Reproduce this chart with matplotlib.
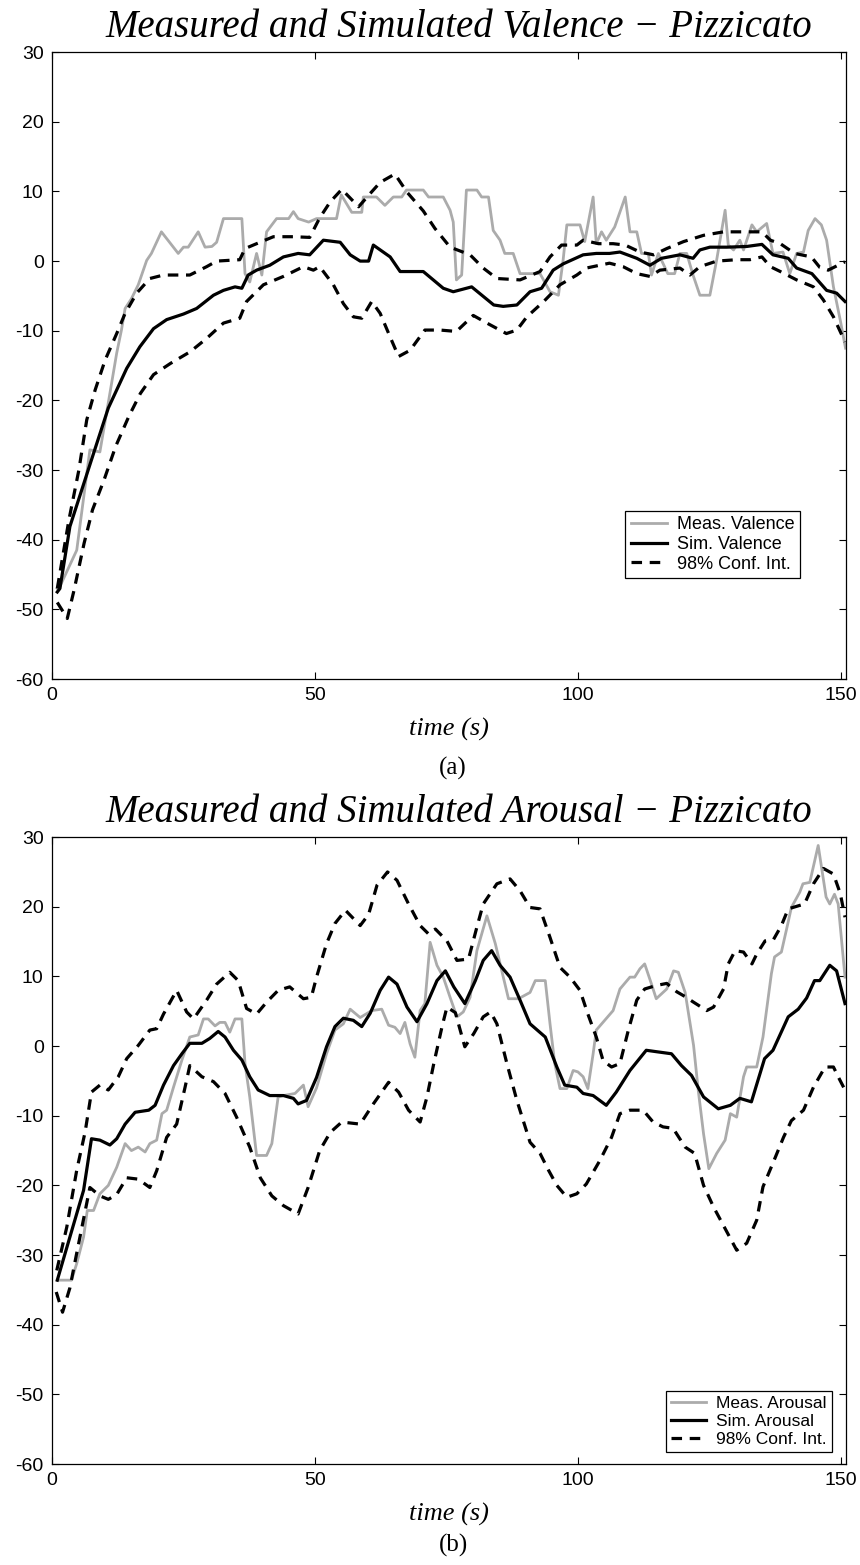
import numpy as np
import matplotlib
matplotlib.use('Agg')
import matplotlib.pyplot as plt

plt.rcParams['font.family'] = ['Liberation Sans', 'DejaVu Sans']
plt.rcParams['axes.unicode_minus'] = False

# (time, value)
val_meas = [(1, -47), (1.5, -46.7), (4.7, -41.5), (7.2, -27.1), (9.1, -27.4), (11, -19), (12.3, -13.2),
            (13.2, -9.9), (13.9, -6.8), (15.1, -5.4), (16.4, -3.4), (18, 0.1), (18.9, 1.1), (20.8, 4.2),
            (24, 1.1), (25, 2.0), (25.9, 2.0), (27.8, 4.2), (29.1, 2.0), (30.4, 2.1), (31.3, 2.7),
            (32.6, 6.1), (36.1, 6.1), (36.7, -1.8), (37.6, -3.0), (38.9, 1.1), (39.9, -2.0), (40.8, 4.2),
            (42.7, 6.1), (45, 6.1), (45.9, 7.1), (46.8, 6.1), (48.8, 5.6), (50.3, 6.1), (54.1, 6.1),
            (55, 9.5), (57, 7.0), (58.9, 7.0), (59.2, 9.2), (61.7, 9.2), (63.3, 8.0), (64.9, 9.2),
            (66.5, 9.2), (67.4, 10.2), (70.6, 10.2), (71.6, 9.2), (74.4, 9.2), (75.7, 7.3), (76.3, 5.6),
            (76.9, -2.7), (77.9, -2.0), (78.8, 10.2), (80.8, 10.2), (81.7, 9.2), (83, 9.2), (83.9, 4.4),
            (85.2, 3.0), (86.1, 1.1), (87.7, 1.1), (89, -1.8), (92.8, -1.8), (94.7, -4.4), (96.3, -4.9),
            (97.2, 0.2), (97.9, 5.2), (100.4, 5.2), (101.3, 2.8), (102.9, 9.2), (103.5, 2.5), (104.5, 4.2),
            (105.4, 3.0), (107, 4.9), (109, 9.2), (109.9, 4.2), (111.2, 4.2), (112.1, 1.1), (113.4, 1.1),
            (114, -2.0), (115.3, 1.1), (117.1, -1.8), (118.4, -1.8), (119.4, 1.1), (120.7, 1.1),
            (121.9, -2.0), (123.2, -4.9), (125.1, -4.9), (126.4, 0.2), (128, 7.3), (128.6, 2.3),
            (129.6, 1.6), (130.8, 3.0), (131.5, 1.6), (133.1, 5.2), (134, 4.2), (135.9, 5.4), (137.1, 1.1),
            (139, 1.3), (140.3, -1.8), (141.6, 1.1), (142.9, 1.3), (143.8, 4.4), (145.1, 6.1), (146.3, 5.2),
            (147.3, 3.0), (148.6, -3.7), (149.9, -8.5), (150.9, -12.5)]
val_sim = [(1, -47.5), (1.5, -47), (3.4, -38.1), (7.9, -27.6), (10.7, -21.1), (14.2, -15.4), (16.7, -12.3),
           (19.3, -9.7), (21.8, -8.4), (25, -7.6), (27.5, -6.8), (30.7, -4.9), (32.6, -4.2), (34.8, -3.7),
           (36.1, -3.9), (37.3, -2.0), (38.9, -1.3), (41.4, -0.6), (44, 0.6), (46.8, 1.1), (49, 0.9),
           (51.6, 3.0), (54.8, 2.7), (56.7, 0.9), (58.6, 0.0), (60.2, 0.0), (61.1, 2.3), (64.3, 0.6),
           (66.2, -1.5), (70.6, -1.5), (74.4, -3.9), (76.3, -4.4), (79.8, -3.7), (84, -6.3), (85.8, -6.5),
           (88.4, -6.3), (90.9, -4.4), (93.1, -3.9), (95.3, -1.3), (97.2, -0.4), (101, 0.9), (103.5, 1.1),
           (106, 1.1), (108, 1.3), (111.2, 0.4), (113.7, -0.6), (115.9, 0.4), (119.4, 0.9), (121.9, 0.4),
           (123.2, 1.6), (125.1, 2.0), (128.3, 2.0), (132.1, 2.1), (135, 2.4), (137.1, 0.9), (140, 0.4),
           (141.6, -1.0), (144.5, -1.8), (147.3, -4.2), (149.2, -4.6), (150.8, -5.8)]
val_up = [(1, -47), (3.2, -37.2), (5.1, -30), (6.6, -22.8), (8.2, -18.5), (10.1, -14.2), (12.3, -10.4),
          (13.9, -7.5), (16.1, -4.6), (18.6, -2.5), (21.2, -2.0), (26.2, -2.0), (29.4, -0.8), (31.3, 0.0),
          (35.7, 0.2), (36.7, 1.8), (38.9, 2.5), (42.1, 3.5), (45.9, 3.5), (49, 3.4), (50.9, 6.2),
          (52.9, 8.5), (55.1, 10.3), (58.3, 7.8), (60.5, 9.7), (62.4, 11.3), (65.2, 12.5), (67.5, 9.9),
          (70.6, 7.2), (72.8, 4.7), (75.7, 2.0), (79.5, 0.9), (82, -1.0), (84.6, -2.5), (89, -2.7),
          (92.8, -1.5), (94.7, 0.6), (96.9, 2.3), (99.8, 2.3), (101, 3.0), (103.9, 2.5), (106.7, 2.5),
          (109, 2.3), (111.8, 1.3), (114.4, 0.9), (116.9, 1.8), (120.1, 2.8), (123.9, 3.7), (127.7, 4.2),
          (135, 4.2), (136.6, 3.0), (138.5, 2.5), (141.2, 1.1), (144.4, 0.6), (146, -0.9), (147.6, -1.3),
          (150.8, -0.1)]
val_lo = [(1, -49), (2.9, -51.3), (4.2, -47.2), (6.1, -40.5), (7.7, -35.7), (9.9, -31.4), (12.1, -26.6),
          (14.6, -22.3), (16.8, -19.0), (19.3, -16.3), (22.5, -14.7), (26.3, -13.0), (29.4, -11.1),
          (32.6, -8.9), (35.7, -8.2), (37, -5.8), (40.2, -3.4), (44, -2.2), (47.8, -0.8), (49.7, -1.3),
          (50.9, -0.8), (53.5, -3.4), (55.4, -6.1), (57.3, -8.0), (58.9, -8.2), (60.8, -5.8), (62.4, -7.5),
          (64.3, -10.9), (65.9, -13.7), (68.1, -12.8), (70.9, -9.9), (73.8, -9.9), (76.9, -10.1),
          (80.1, -7.8), (82.7, -8.9), (86.4, -10.4), (88.4, -9.9), (90.3, -8.0), (93.5, -5.8), (96.6, -3.4),
          (99.8, -2.0), (101.6, -1.0), (106, -0.3), (108.6, -0.8), (111.2, -1.8), (113.7, -2.2),
          (115.6, -1.3), (119.4, -1.0), (121.3, -2.0), (123.2, -0.8), (126.4, 0.0), (130.2, 0.2),
          (132.7, 0.2), (135, 0.6), (136.6, -0.8), (138.5, -1.5), (141.6, -2.7), (144.8, -3.7),
          (146.7, -5.6), (148.6, -8.0), (150.8, -11.6)]

aro_meas = [(1, -33.6), (3.7, -33.6), (4.7, -31.2), (6, -27.4), (6.7, -23.6), (7.9, -23.6), (9.1, -21.2),
            (10.7, -20.0), (12.3, -17.4), (13.9, -14.0), (15.1, -15.0), (16.4, -14.5), (17.7, -15.2),
            (18.6, -14.0), (19.9, -13.5), (20.9, -9.7), (21.8, -9.2), (23.1, -5.9), (24.7, -2.0), (26.2, 1.3),
            (27.8, 1.6), (28.8, 3.9), (29.7, 3.9), (31, 2.9), (31.9, 3.4), (32.9, 3.4), (33.8, 2.0),
            (34.8, 3.9), (36.1, 3.9), (36.7, -2.5), (37.6, -7.3), (38.9, -15.7), (40.8, -15.7), (41.8, -14.0),
            (43, -7.3), (44, -7.1), (46.2, -6.8), (47.8, -5.6), (48.7, -8.7), (50.3, -6.0), (52.2, -1.1),
            (53.8, 2.3), (55.4, 3.2), (56.7, 5.3), (58.6, 4.1), (60.8, 5.1), (62.7, 5.3), (64, 3.0),
            (65.2, 2.7), (66.2, 1.8), (67.1, 3.4), (68.1, 0.3), (69, -1.6), (70, 5.1), (70.9, 6.1),
            (71.9, 14.9), (73.2, 11.6), (74.4, 9.9), (75.7, 7.0), (77, 4.2), (78.2, 4.9), (79.5, 7.0),
            (80.8, 13.7), (82.7, 18.7), (84.3, 14.7), (85.5, 10.9), (86.8, 6.8), (88.7, 6.8), (90.9, 7.7),
            (91.9, 9.4), (93.8, 9.4), (94.7, 3.2), (95.6, -2.5), (96.6, -6.1), (97.9, -6.1), (99.1, -3.5),
            (100, -3.7), (101, -4.4), (101.9, -6.1), (102.9, -1.1), (103.5, 2.3), (105.1, 3.7), (106.7, 5.1),
            (108, 8.2), (109.9, 9.9), (110.8, 9.9), (111.8, 11.1), (112.7, 11.8), (114, 8.9), (114.9, 6.8),
            (116.9, 8.2), (118.2, 10.8), (119.1, 10.6), (120.4, 7.7), (122, 0.1), (122.9, -6.4),
            (123.9, -12.6), (124.9, -17.6), (126.4, -15.4), (128, -13.5), (129, -9.7), (130.2, -10.2),
            (131.5, -4.4), (132.1, -3.0), (134, -3.0), (135.2, 1.3), (136.8, 10.4), (137.4, 12.8),
            (138.7, 13.5), (139.9, 17.5), (140.6, 19.9), (142.2, 22.1), (142.8, 23.3), (144.1, 23.5),
            (145.7, 28.8), (147.2, 21.4), (147.9, 20.4), (148.8, 21.8), (149.5, 20.4), (150.8, 9.9)]
aro_sim = [(1, -33.6), (3.4, -27.4), (6, -20.7), (7.5, -13.3), (9.1, -13.5), (11, -14.2), (12.3, -13.3),
           (13.9, -11.2), (15.8, -9.5), (18.4, -9.2), (19.6, -8.5), (21.2, -5.6), (23.1, -2.8), (24.7, -1.1),
           (26.2, 0.4), (28.5, 0.4), (30, 1.1), (31.6, 2.1), (32.9, 1.3), (34.5, -0.6), (36.1, -2.0),
           (37.6, -4.4), (39.2, -6.3), (41.4, -7.1), (44, -7.1), (45.9, -7.5), (46.8, -8.3), (48.4, -7.8),
           (50.3, -4.5), (52.2, -0.1), (53.8, 2.8), (55.4, 4.0), (57.3, 3.7), (58.9, 2.8), (60.5, 4.7),
           (62.4, 8.0), (64, 9.9), (65.6, 8.9), (67.5, 5.6), (69.4, 3.5), (71.3, 6.1), (73.2, 9.4),
           (74.8, 10.8), (76.4, 8.5), (78.5, 6.1), (80.5, 9.4), (82, 12.3), (83.6, 13.7), (85.2, 11.6),
           (87.1, 9.9), (89, 6.6), (90.9, 3.2), (93.8, 1.3), (96, -3.0), (97.5, -5.6), (99.8, -5.9),
           (101, -6.8), (102.9, -7.1), (105.4, -8.5), (107.3, -6.6), (109.9, -3.5), (113, -0.6),
           (114.9, -0.8), (117.8, -1.1), (119.7, -2.8), (121.6, -4.2), (123.9, -7.3), (126.7, -9.0),
           (129, -8.5), (130.8, -7.5), (133, -8.0), (135.5, -1.8), (137.1, -0.6), (140, 4.2), (141.9, 5.3),
           (143.5, 6.9), (145, 9.4), (146, 9.4), (147.9, 11.6), (149.2, 10.8), (150.8, 6.1)]
aro_up = [(0.9, -32.2), (2.8, -26), (4.7, -17.8), (6.3, -12.3), (7.5, -6.6), (9.1, -5.6), (10.7, -6.3),
          (12.6, -4.4), (14.2, -1.8), (16.4, 0.1), (18.6, 2.3), (19.9, 2.5), (21.2, 4.6), (23.7, 8.0),
          (25.6, 4.9), (26.9, 3.9), (29.4, 6.6), (31.3, 8.9), (33.8, 10.6), (35.4, 9.4), (37, 5.4),
          (38.9, 4.6), (40.8, 6.3), (43, 8.0), (45.2, 8.5), (47.8, 6.8), (49.3, 7.0), (50.3, 9.9),
          (52.2, 14.7), (53.8, 17.6), (55.8, 19.5), (58.6, 17.3), (60.2, 18.9), (61.8, 23.1), (63.8, 25.0),
          (65.6, 23.8), (67.8, 20.4), (70, 17.3), (71.6, 16.1), (72.9, 16.8), (75.1, 15.1), (77, 12.3),
          (79.2, 12.5), (80.8, 17.1), (82, 20.4), (84.6, 23.3), (87.1, 24.0), (89, 22.3), (90.9, 19.9),
          (92.8, 19.7), (94.7, 15.6), (96.6, 11.3), (98.5, 9.9), (100.4, 8.0), (101.9, 4.6), (103.5, 1.3),
          (104.8, -2.1), (106.4, -3.0), (108, -2.5), (109.6, 2.3), (111.2, 6.6), (112.7, 8.2), (114.9, 8.7),
          (116.9, 9.0), (118.8, 7.8), (120.4, 7.1), (122, 6.3), (124.5, 5.1), (125.8, 5.6), (127.7, 8.2),
          (128.6, 11.8), (129.9, 13.7), (131.5, 13.5), (133.1, 11.8), (134, 13.2), (135.6, 15.1),
          (137.2, 15.3), (138.7, 17.3), (140, 19.7), (142.2, 20.2), (143.1, 20.4), (144.8, 23.3),
          (146.7, 25.5), (148.6, 24.7), (149.9, 21.9), (150.8, 18.5)]
aro_lo = [(0.8, -35.3), (2, -38.2), (3.4, -34.7), (4.7, -29.7), (7.2, -20.3), (9.1, -21.5), (10.7, -22),
          (12.3, -21.3), (14.2, -18.9), (16.4, -19.1), (18.6, -20.3), (19.9, -17.9), (21.8, -13.1),
          (23.7, -11.2), (25.3, -5.9), (26.2, -2.8), (28.5, -4.4), (30.7, -5.1), (32.9, -6.8), (35.1, -10.2),
          (37.6, -14.5), (39.6, -18.9), (41.8, -21.5), (44, -22.9), (46.8, -24.1), (48.7, -20.3),
          (50.9, -15.0), (52.9, -12.4), (55.1, -10.9), (58.6, -11.2), (61.1, -8.3), (64, -5.2), (65.9, -6.6),
          (67.8, -9.2), (70, -10.9), (71.3, -7.3), (72.6, -2.5), (74.2, 2.9), (75.1, 5.6), (76.7, 4.8),
          (78.5, -0.1), (80.2, 1.8), (82, 4.2), (83.4, 4.9), (84.6, 3.2), (86.5, -2.5), (88.4, -7.8),
          (90.9, -13.8), (92.8, -15.4), (94.4, -17.8), (96, -20.0), (97.9, -21.7), (99.8, -21.2),
          (101.6, -19.8), (104.2, -16.4), (106.4, -13.1), (108, -9.7), (109.9, -9.2), (112.4, -9.2),
          (114.3, -10.9), (116.2, -11.6), (118.1, -11.8), (120.4, -14.5), (122.2, -15.4), (123.9, -20.0),
          (125.8, -23.1), (128, -26.2), (130.2, -29.3), (132.1, -28.3), (134, -25.0), (135.2, -20.2),
          (137.2, -16.6), (139.1, -13.1), (140.6, -10.7), (142.9, -9.2), (144.8, -5.9), (147, -3.0),
          (148.6, -3.0), (149.5, -4.4), (150.8, -6.3)]

xticks = [0, 50, 100, 150]
yticks = [-60, -50, -40, -30, -20, -10, 0, 10, 20, 30]

GRAY = '#ababab'
DASH = (0, (3.3, 2.4))
serif = ['Liberation Serif', 'DejaVu Serif']


def draw_panel(ax, meas, sim, up, lo, names, leg_loc, leg_box, leg_fs):
    t, v = np.array(meas).T
    ax.plot(t, v, color=GRAY, lw=2.0, label=names[0])
    t, v = np.array(sim).T
    ax.plot(t, v, color='black', lw=2.3, label=names[1])
    t, v = np.array(up).T
    ax.plot(t, v, color='black', lw=2.3, ls=DASH, label=names[2])
    t, v = np.array(lo).T
    ax.plot(t, v, color='black', lw=2.3, ls=DASH)
    ax.set_xlim(0, 151)
    ax.set_ylim(-60, 30)
    ax.set_xticks(xticks)
    ax.set_yticks(yticks)
    ax.tick_params(direction='in', length=5, width=0.8, labelsize=14, top=True, right=True, pad=6)
    for s in ax.spines.values():
        s.set_linewidth(0.9)
    leg = ax.legend(loc=leg_loc, bbox_to_anchor=leg_box, fontsize=leg_fs, fancybox=False,
                    framealpha=1, edgecolor='black', handlelength=2.0, labelspacing=0.15,
                    borderpad=0.3, handletextpad=0.6, borderaxespad=0)
    leg.get_frame().set_linewidth(0.9)


fig = plt.figure(figsize=(8.6, 15.65), dpi=100)
ax1 = fig.add_axes([0.0605, 0.5661, 0.9233, 0.4006])
ax2 = fig.add_axes([0.0605, 0.0645, 0.9233, 0.4006])

draw_panel(ax1, val_meas, val_sim, val_up, val_lo,
           ['Meas. Valence', 'Sim. Valence', '98% Conf. Int.'], 'lower left', (0.7217, 0.161), 13)
draw_panel(ax2, aro_meas, aro_sim, aro_up, aro_lo,
           ['Meas. Arousal', 'Sim. Arousal', '98% Conf. Int.'], 'lower right', (0.982, 0.019), 12.5)

for ax, title in [(ax1, 'Measured and Simulated Valence \u2212 Pizzicato'),
                  (ax2, 'Measured and Simulated Arousal \u2212 Pizzicato')]:
    ax.set_title(title, family=serif, style='italic', fontsize=28, pad=11, x=0.512)
    ax.set_xlabel('time (s)', family=serif, style='italic', fontsize=19, labelpad=10)

fig.text(0.527, 1 - 768 / 1565, '(a)', family=serif, fontsize=18, ha='center', va='center')
fig.text(0.527, 1 - 1545 / 1565, '(b)', family=serif, fontsize=18, ha='center', va='center')

fig.savefig('out.png', dpi=100)
